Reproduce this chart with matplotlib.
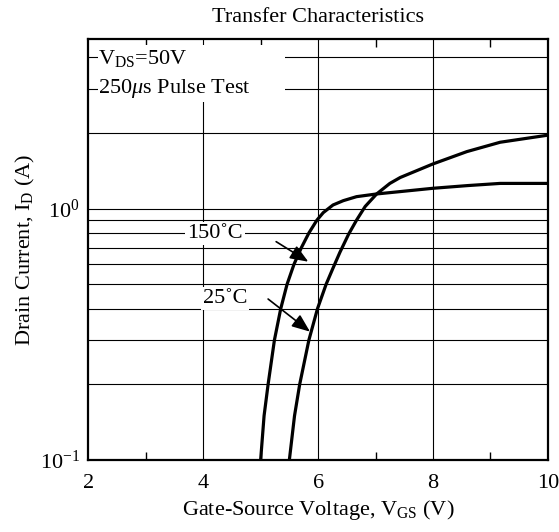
import matplotlib
matplotlib.use("Agg")
import matplotlib.pyplot as plt
from matplotlib.patches import Rectangle

plt.rcParams['font.family'] = ['Liberation Serif', 'DejaVu Serif']
plt.rcParams['mathtext.fontset'] = 'custom'
plt.rcParams['mathtext.rm'] = 'Liberation Serif'
plt.rcParams['mathtext.it'] = 'Liberation Serif:italic'
plt.rcParams['axes.unicode_minus'] = False

# curves (V_GS in volts, I_D in amps)
vgs_150 = [5.00, 5.06, 5.13, 5.24, 5.35, 5.46, 5.58, 5.71, 5.84, 5.98, 6.09, 6.26, 6.44, 6.67, 7.02, 7.43, 8.00, 8.60, 9.17, 10.0]
id_150 = [0.10, 0.15, 0.20, 0.30, 0.40, 0.50, 0.60, 0.70, 0.80, 0.90, 0.964, 1.034, 1.076, 1.116, 1.144, 1.169, 1.205, 1.235, 1.26, 1.26]

vgs_25 = [5.50, 5.59, 5.68, 5.84, 5.99, 6.14, 6.26, 6.38, 6.53, 6.67, 6.82, 7.02, 7.25, 7.43, 8.00, 8.59, 9.17, 10.0]
id_25 = [0.10, 0.15, 0.20, 0.30, 0.40, 0.50, 0.58, 0.67, 0.79, 0.90, 1.02, 1.144, 1.26, 1.33, 1.506, 1.686, 1.837, 1.96]

x_ticks = [2, 4, 6, 8, 10]
x_minor = [3, 5, 7, 9]
y_grid = [0.2, 0.3, 0.4, 0.5, 0.6, 0.7, 0.8, 0.9, 1.0, 2.0, 3.0, 4.0]

fig = plt.figure(figsize=(5.59, 5.32), dpi=100)
ax = fig.add_axes([0.158, 0.1353, 0.822, 0.7914])

ax.set_yscale('log')
ax.set_xlim(2, 10)
ax.set_ylim(0.1, 4.73)

# grid lines
for y in y_grid:
    ax.axhline(y, color='black', lw=0.8, zorder=1)
for x in [4, 6, 8]:
    ax.axvline(x, color='black', lw=0.8, zorder=1)

ax.plot(vgs_150, id_150, color='black', lw=2.3, zorder=3, solid_joinstyle='round')
ax.plot(vgs_25, id_25, color='black', lw=2.3, zorder=3, solid_joinstyle='round')

ax.set_xticks(x_ticks)
ax.set_xticks(x_minor, minor=True)
ax.set_yticks([0.1, 1.0])
ax.set_yticklabels([r'$10^{-1}$', r'$10^{0}$'])
ax.set_yticks([], minor=True)
ax.tick_params(axis='x', which='major', length=0, labelsize=16, pad=10)
ax.tick_params(axis='x', which='minor', direction='in', length=6, width=1, top=True)
ax.tick_params(axis='y', which='major', length=0, labelsize=16, pad=6)
for s in ax.spines.values():
    s.set_linewidth(1.6)

ax.set_title('Transfer Characteristics', fontsize=16, pad=12)
ax.set_xlabel(r'Gate-Source Voltage, V$_\mathrm{GS}$ (V)', fontsize=16, labelpad=4)
ax.set_ylabel(r'Drain Current, I$_\mathrm{D}$ (A)', fontsize=16, labelpad=2)

# condition box
ax.add_patch(Rectangle((2.17, 2.66), 3.25, 1.82, facecolor='white', edgecolor='none', zorder=2))
ax.text(2.175, 3.95, r'V$_\mathrm{DS}$=50V', fontsize=16, va='center', ha='left', zorder=4)
ax.text(2.175, 3.0, r'250$\mu$s Pulse Test', fontsize=16, va='center', ha='left', zorder=4)

ax.text(4.21, 0.80, '150\u02daC', fontsize=16, ha='center', va='center', zorder=4,
        bbox=dict(facecolor='white', edgecolor='none', pad=1.5))
ax.text(4.38, 0.44, '25\u02daC', fontsize=16, ha='center', va='center', zorder=4,
        bbox=dict(facecolor='white', edgecolor='none', pad=1.5))

arrow = dict(arrowstyle='-|>,head_length=0.55,head_width=0.22', color='black', lw=1.2,
             mutation_scale=20, shrinkA=0, shrinkB=0)
ax.annotate('', xy=(5.83, 0.615), xytext=(5.27, 0.739), arrowprops=arrow, zorder=4)
ax.annotate('', xy=(5.86, 0.324), xytext=(5.13, 0.437), arrowprops=arrow, zorder=4)

fig.savefig('out.png', dpi=100)
